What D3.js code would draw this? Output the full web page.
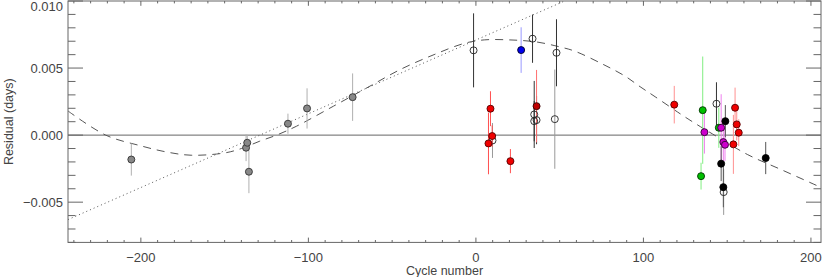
<!DOCTYPE html>
<html><head><meta charset="utf-8">
<script src="https://cdn.jsdelivr.net/npm/d3@7"></script>
<style>body{margin:0;background:#fff}svg{display:block}text{font-family:"Liberation Sans",Arial,sans-serif;fill:#444}</style>
</head><body><div id="chart"></div>
<script>
// ---- data ----
const xTicks = [-200, -100, 0, 100, 200];
const yTicks = [-0.005, 0.000, 0.005, 0.010];

// gray filled points
const grayCycle = [-205.7, -137.2, -136.5, -135.5, -112.2, -100.8, -73.6];
const grayRes   = [-0.00182, -0.00094, -0.00057, -0.00273, 0.00085, 0.00199, 0.00283];
const grayErr   = [0.0012, 0.0010, 0.0006, 0.0016, 0.00075, 0.0015, 0.00177];

// open circles
const openCycle = [-1.4, 33.8, 48.1, 34.8, 34.8, 36.2, 47.1, 9.9, 143.6, 147.9];
const openRes   = [0.00632, 0.00719, 0.00614, 0.00154, 0.00104, 0.00112, 0.00119, -0.0004, 0.00234, -0.00425];
const openErr   = [0.00276, 0.0018, 0.0025, 0.0025, 0.0015, 0.0018, 0.0037, 0.0013, 0.0016, 0.0017];
const openBar   = ["dark","dark","dark","dark","dark","dark","light","light","dark","light"];

// red filled points
const redCycle = [8.7, 7.5, 9.7, 20.6, 118.4, 154.7, 155.7, 156.9, 153.7];
const redRes   = [0.00197, -0.00062, -0.00007, -0.00194, 0.00227, 0.00204, 0.0008, 0.00018, -0.00069];
const redErr   = [0.0013, 0.0023, 0.0008, 0.0009, 0.0014, 0.0015, 0.0012, 0.0010, 0.0022];

// dark red filled point
const darkRedCycle = [36.2];
const darkRedRes   = [0.00216];
const darkRedErr   = [0.0027];

// blue filled point
const blueCycle = [27.0];
const blueRes   = [0.00634];
const blueErr   = [0.0017];

// green filled points
const greenCycle = [135.4, 134.4, 145.0];
const greenRes   = [0.00186, -0.00306, 0.00055];
const greenErr   = [0.0040, 0.0010, 0.0015];

// magenta filled points
const magentaCycle = [136.4, 146.4, 147.7, 148.7];
const magentaRes   = [0.00022, 0.00055, -0.00052, -0.00072];
const magentaErr   = [0.0016, 0.0025, 0.0015, 0.0012];

// black filled points
const blackCycle = [148.9, 146.4, 147.7, 173.0];
const blackRes   = [0.00104, -0.00213, -0.00388, -0.00171];
const blackErr   = [0.0012, 0.0013, 0.0015, 0.0012];

// dashed fit curve
const fitCycle = [-243.5, -221, -200, -185, -170, -150, -140, -129, -119, -107, -85, -65, -45, -25, -7, 5, 20, 36, 50, 59, 76, 89, 98, 107, 124, 134, 144, 162, 182, 206];
const fitRes   = [0.0018, 0.0, -0.0008, -0.00125, -0.0015, -0.00133, -0.001, -0.00045, 0.0, 0.00067, 0.00216, 0.00353, 0.0049, 0.006, 0.00684, 0.0071, 0.0071, 0.00695, 0.00658, 0.00626, 0.00527, 0.0044, 0.00361, 0.00286, 0.00142, 0.00063, -0.00012, -0.00144, -0.00256, -0.0039];

// dotted linear fit (end points)
const linCycle = [-243.5, 62];
const linRes   = [-0.0063, 0.0105];

// ---- layout ----
const W = 830, H = 277;
const L = 68, R = 821, T = 1, B = 242.4;

const svg = d3.select("#chart").append("svg").attr("width", W).attr("height", H);
const x = d3.scaleLinear().domain([-243.5, 206]).range([L, R]);
const y = d3.scaleLinear().domain([-0.008, 0.010]).range([B, T]);

const axisCol = "#666";
svg.append("defs").append("clipPath").attr("id","clip")
  .append("rect").attr("x",L).attr("y",T).attr("width",R-L).attr("height",B-T);

const plot = svg.append("g").attr("clip-path","url(#clip)");

// zero line
plot.append("line").attr("x1",L).attr("x2",R).attr("y1",y(0)).attr("y2",y(0))
  .attr("stroke",axisCol).attr("stroke-width",1);

// fits
const line = d3.line().x(d=>x(d[0])).y(d=>y(d[1]));
plot.append("path").datum(linCycle.map((c,i)=>[c,linRes[i]]))
  .attr("d", line).attr("fill","none").attr("stroke","#555").attr("stroke-width",1)
  .attr("stroke-dasharray","1,3");
plot.append("path").datum(fitCycle.map((c,i)=>[c,fitRes[i]]))
  .attr("d", line.curve(d3.curveCatmullRom)).attr("fill","none").attr("stroke","#555").attr("stroke-width",1)
  .attr("stroke-dasharray","8,6");

// series
const series = [
  {c:grayCycle, v:grayRes, e:grayErr, fill:"#888", stroke:"#333", bar:()=>"#b0b0b0"},
  {c:openCycle, v:openRes, e:openErr, fill:"none", stroke:"#222", bar:(i)=>openBar[i]==="dark"?"#333":"#999"},
  {c:redCycle, v:redRes, e:redErr, fill:"#f00000", stroke:"#500", bar:(i)=> i>=4 ? "#ff9090" : "#ff5050"},
  {c:darkRedCycle, v:darkRedRes, e:darkRedErr, fill:"#c00000", stroke:"#300", bar:()=>"#ff7070"},
  {c:blueCycle, v:blueRes, e:blueErr, fill:"#0000ee", stroke:"#002", bar:()=>"#9999ff"},
  {c:greenCycle, v:greenRes, e:greenErr, fill:"#00c000", stroke:"#030", bar:()=>"#80ee80"},
  {c:magentaCycle, v:magentaRes, e:magentaErr, fill:"#cc00cc", stroke:"#303", bar:()=>"#ee80ee"},
  {c:blackCycle, v:blackRes, e:blackErr, fill:"#000", stroke:"#000", bar:()=>"#555"}
];
const barsG = plot.append("g");
series.forEach(s=>{
  barsG.selectAll(null).data(s.c.map((c,i)=>i)).enter().append("line")
    .attr("x1",i=>x(s.c[i])).attr("x2",i=>x(s.c[i]))
    .attr("y1",i=>y(s.v[i]-s.e[i])).attr("y2",i=>y(s.v[i]+s.e[i]))
    .attr("stroke",i=>s.bar(i)).attr("stroke-width",1);
});
const ptsG = plot.append("g");
series.forEach(s=>{
  ptsG.selectAll(null).data(s.c.map((c,i)=>i)).enter().append("circle")
    .attr("cx",i=>x(s.c[i])).attr("cy",i=>y(s.v[i])).attr("r",3.5)
    .attr("fill",s.fill).attr("stroke",s.stroke).attr("stroke-width",0.9);
});

// frame
svg.append("rect").attr("x",L).attr("y",T).attr("width",R-L).attr("height",B-T)
  .attr("fill","none").attr("stroke",axisCol).attr("stroke-width",1);

// ticks (inward, on all four sides)
const ax = svg.append("g").attr("stroke",axisCol).attr("stroke-width",1);
const xMinor = d3.range(-240, 206, 10);
const yMinor = d3.range(-8, 11, 1).map(k=>k/1000);
const xMaj = 4.8, xMin = 2.4, yMaj = 15, yMin = 7.5;
xMinor.forEach(t=>{
  const len = (t % 100 === 0) ? xMaj : xMin;
  ax.append("line").attr("x1",x(t)).attr("x2",x(t)).attr("y1",B).attr("y2",B-len);
  ax.append("line").attr("x1",x(t)).attr("x2",x(t)).attr("y1",T).attr("y2",T+len);
});
yMinor.forEach(t=>{
  const isMaj = yTicks.some(m=>Math.abs(m-t)<1e-9);
  const len = isMaj ? yMaj : yMin;
  ax.append("line").attr("x1",L).attr("x2",L+len).attr("y1",y(t)).attr("y2",y(t));
  ax.append("line").attr("x1",R).attr("x2",R-len).attr("y1",y(t)).attr("y2",y(t));
});

// tick labels
const fmtY = d3.format(".3f");
svg.selectAll(".yl").data(yTicks).enter().append("text")
  .attr("x", L-5).attr("y", d=>Math.max(y(d), 6)).attr("dy","0.35em")
  .attr("text-anchor","end").attr("font-size",13).text(d=>fmtY(d));
svg.selectAll(".xl").data(xTicks).enter().append("text")
  .attr("x", d=>x(d)).attr("y", 257).attr("dy","0.35em")
  .attr("text-anchor","middle").attr("font-size",13).text(d=>d3.format("d")(d));

// axis titles
svg.append("text").attr("x",(L+R)/2).attr("y",271).attr("dy","0.35em")
  .attr("text-anchor","middle").attr("font-size",12.5).text("Cycle number");
svg.append("text").attr("transform",`translate(9,${(T+B)/2}) rotate(-90)`).attr("dy","0.35em")
  .attr("text-anchor","middle").attr("font-size",12.5).text("Residual (days)");
</script></body></html>
